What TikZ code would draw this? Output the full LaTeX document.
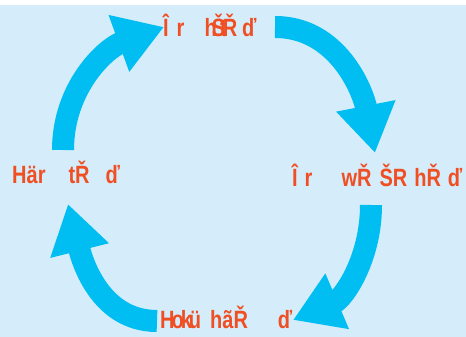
\documentclass[tikz,border=0pt]{standalone}
\usepackage{fontspec}
\setmainfont{Liberation Sans}
\newfontfamily\lblfont[FakeStretch=0.8]{Liberation Sans}
\usetikzlibrary{arrows.meta}
\definecolor{bgblue}{HTML}{D5EDFA}
\definecolor{cycblue}{HTML}{00BEF2}
\definecolor{lblred}{HTML}{F04E23}
\tikzset{
  lbl/.style={text=lblred, font=\lblfont\bfseries\fontsize{25}{25}\selectfont, inner sep=0pt, anchor=base west},
  cyc/.style={draw=cycblue, line width=22pt, -{Triangle[width=57pt,length=48pt]}}
}
\begin{document}
\begin{tikzpicture}[x=1pt,y=1pt]
	\useasboundingbox (0,0) rectangle (466,337);
	\fill[bgblue] (0,0) rectangle (466,332);
	% labels
	\node[lbl] (top) at (163,300) {Î\hspace{8pt}r\hspace{20pt}h\kern-5ptŠ\kern-5ptt\kern-4ptŘ\hspace{5pt}ď};
	\node[lbl] (right) at (292,150) {Î\hspace{7pt}r\hspace{29pt}wŘ\hspace{8pt}ŠR\hspace{7pt}hŘ\hspace{7pt}ď};
	\node[lbl] (bottom) at (160,8) {H\kern-3pto\kern-3ptk\kern-3ptü\hspace{9pt}hãŘ\hspace{30pt}ď};
	\node[lbl] (left) at (12,153) {Här\hspace{23pt}tŘ\hspace{16pt}ď};
	% cycle arrows
	\coordinate (s1) at (275,310);
	\coordinate (e1) at (375,184);
	\coordinate (s2) at (371,132);
	\coordinate (e2) at (293,17);
	\coordinate (s3) at (157,16);
	\coordinate (e3) at (68,133);
	\coordinate (s4) at (63,187);
	\coordinate (e4) at (164,310);
	\draw[cyc] (s1) to [out=0,in=101] (e1);
	\draw[cyc] (s2) to [out=-90,in=23] (e2);
	\draw[cyc] (s3) to [out=180,in=-76] (e3);
	\draw[cyc] (s4) to [out=90,in=200] (e4);
\end{tikzpicture}
\end{document}
